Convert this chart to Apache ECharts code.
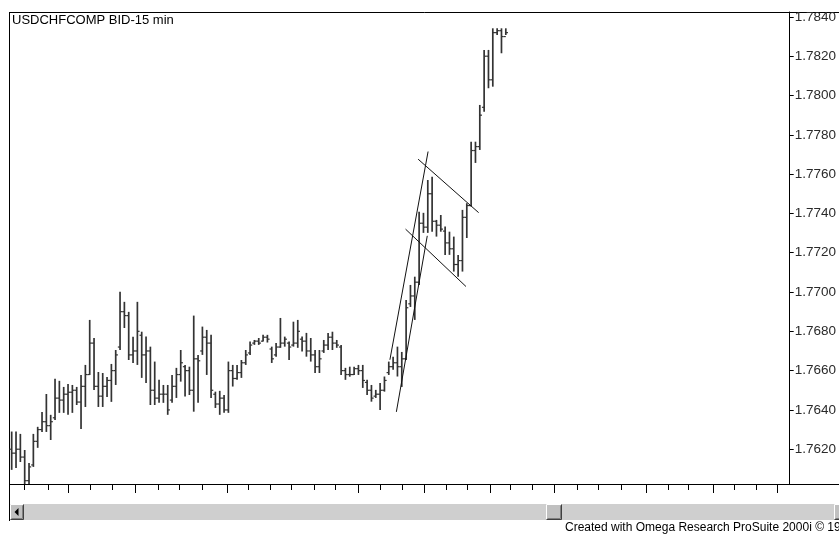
<!DOCTYPE html>
<html>
<head>
<meta charset="utf-8">
<script src="https://cdn.jsdelivr.net/npm/echarts@6.0.0/dist/echarts.min.js"></script>
<style>
html,body{margin:0;padding:0;background:#fff;}
#chart{width:839px;height:535px;}
</style>
</head>
<body>
<div id="chart"></div>
<script>
// ---- Data (15-min OHLC bars, USD/CHF) ----
const opens = [
1.76200,1.76180,1.76200,1.76160,1.76040,1.76120,1.76240,1.76300,1.76340,1.76320,
1.76360,1.76460,1.76450,1.76480,1.76490,1.76500,1.76440,1.76520,1.76580,1.76740,
1.76520,1.76470,1.76520,1.76550,1.76600,1.76720,1.76900,1.76880,1.76680,1.76700,
1.76780,1.76680,1.76700,1.76500,1.76460,1.76480,1.76480,1.76450,1.76520,1.76580,
1.76620,1.76600,1.76500,1.76660,1.76700,1.76770,1.76740,1.76480,1.76430,1.76460,
1.76400,1.76600,1.76560,1.76590,1.76640,1.76690,1.76740,1.76750,1.76750,1.76770,
1.76710,1.76680,1.76720,1.76740,1.76740,1.76730,1.76740,1.76760,1.76750,1.76700,
1.76680,1.76620,1.76700,1.76730,1.76770,1.76740,1.76720,1.76600,1.76580,1.76580,
1.76610,1.76600,1.76540,1.76500,1.76470,1.76480,1.76500,1.76590,1.76620,1.76640,
1.76620,1.76660,1.76940,1.76980,1.77050,1.77350,1.77330,1.77500,1.77360,1.77340,
1.77310,1.77250,1.77220,1.77140,1.77160,1.77380,1.77440,1.77720,1.77740,1.77940,
1.78200,1.78080,1.78320,1.78330,1.78300];
const highs = [
1.76290,1.76290,1.76278,1.76196,1.76130,1.76278,1.76314,1.76390,1.76481,1.76375,
1.76558,1.76548,1.76517,1.76532,1.76527,1.76517,1.76578,1.76629,1.76858,1.76766,
1.76593,1.76588,1.76568,1.76634,1.76705,1.77001,1.76950,1.76899,1.76772,1.76950,
1.76798,1.76773,1.76722,1.76646,1.76553,1.76527,1.76527,1.76578,1.76614,1.76705,
1.76629,1.76620,1.76880,1.76680,1.76824,1.76807,1.76782,1.76493,1.76497,1.76476,
1.76646,1.76629,1.76629,1.76654,1.76705,1.76748,1.76756,1.76766,1.76782,1.76782,
1.76722,1.76741,1.76868,1.76773,1.76748,1.76849,1.76858,1.76773,1.76792,1.76766,
1.76705,1.76705,1.76756,1.76792,1.76798,1.76756,1.76731,1.76614,1.76620,1.76620,
1.76629,1.76629,1.76553,1.76527,1.76502,1.76537,1.76570,1.76646,1.76671,1.76722,
1.76695,1.76960,1.77036,1.77078,1.77409,1.77403,1.77570,1.77587,1.77367,1.77392,
1.77333,1.77307,1.77282,1.77189,1.77418,1.77452,1.77765,1.77765,1.77952,1.78232,
1.78232,1.78342,1.78342,1.78342,1.78342];
const lows = [
1.76095,1.76105,1.76135,1.76010,1.76010,1.76110,1.76207,1.76288,1.76288,1.76247,
1.76349,1.76385,1.76385,1.76375,1.76385,1.76425,1.76303,1.76415,1.76578,1.76502,
1.76415,1.76415,1.76466,1.76441,1.76527,1.76705,1.76817,1.76654,1.76639,1.76629,
1.76563,1.76537,1.76425,1.76425,1.76436,1.76436,1.76375,1.76436,1.76461,1.76544,
1.76468,1.76476,1.76391,1.76436,1.76680,1.76578,1.76461,1.76410,1.76375,1.76385,
1.76385,1.76519,1.76553,1.76563,1.76629,1.76680,1.76731,1.76731,1.76748,1.76743,
1.76639,1.76671,1.76716,1.76722,1.76654,1.76722,1.76716,1.76697,1.76671,1.76646,
1.76588,1.76588,1.76690,1.76705,1.76705,1.76716,1.76578,1.76553,1.76569,1.76578,
1.76578,1.76512,1.76476,1.76442,1.76461,1.76400,1.76493,1.76578,1.76604,1.76570,
1.76517,1.76654,1.76924,1.76858,1.77036,1.77301,1.77301,1.77307,1.77282,1.77307,
1.77189,1.77189,1.77104,1.77078,1.77104,1.77275,1.77435,1.77657,1.77723,1.77918,
1.78037,1.78045,1.78308,1.78215,1.78308];
const closes = [
1.76180,1.76200,1.76160,1.76040,1.76110,1.76240,1.76300,1.76340,1.76320,1.76340,
1.76460,1.76450,1.76480,1.76490,1.76500,1.76440,1.76520,1.76580,1.76740,1.76520,
1.76470,1.76520,1.76550,1.76600,1.76680,1.76900,1.76880,1.76680,1.76700,1.76800,
1.76680,1.76700,1.76500,1.76460,1.76480,1.76480,1.76400,1.76520,1.76580,1.76640,
1.76600,1.76500,1.76660,1.76650,1.76770,1.76740,1.76500,1.76430,1.76460,1.76400,
1.76600,1.76560,1.76590,1.76640,1.76680,1.76730,1.76750,1.76740,1.76770,1.76760,
1.76660,1.76720,1.76740,1.76760,1.76720,1.76740,1.76800,1.76750,1.76700,1.76680,
1.76620,1.76660,1.76730,1.76770,1.76740,1.76730,1.76600,1.76580,1.76580,1.76610,
1.76600,1.76550,1.76500,1.76460,1.76480,1.76500,1.76550,1.76620,1.76640,1.76620,
1.76660,1.76920,1.76980,1.77050,1.77350,1.77330,1.77500,1.77360,1.77340,1.77320,
1.77250,1.77220,1.77140,1.77160,1.77380,1.77440,1.77720,1.77740,1.77900,1.78200,
1.78080,1.78320,1.78330,1.78300,1.78320];

// price axis tick labels
const yTickValues = [1.7620,1.7640,1.7660,1.7680,1.7700,1.7720,1.7740,1.7760,1.7780,1.7800,1.7820,1.7840];
// time-axis tick marks (in bar-index units)
const minorTimeTicks = [2.8,8.4,18.2,23.2,33.7,38.6,43.9,54.6,59.6,64.5,69.7,74.6,85.1,90.0,100.3,105.2,115.1,120.2,130.5,135.3,140.6,151.4,156.2,166.8,171.7];
const majorTimeTicks = [13.1,28.5,49.7,79.9,95.1,110.3,125.2,146.4,161.8,176.7];

// hand-drawn trend lines: [barIndex, price] end points
const trendA = [[87.26,1.76655],[96.07,1.77715]];
const trendB = [[88.75,1.76390],[95.88,1.77286]];
const trendC = [[93.77,1.77676],[107.73,1.77404]];
const trendD = [[90.87,1.77320],[104.81,1.77028]];

const titleText = 'USDCHFCOMP BID-15 min';
const footerText = 'Created with Omega Research ProSuite 2000i \u00A9 1999';

// ---- build ----
const ohlc = opens.map((o,i)=>[i,o,closes[i],lows[i],highs[i]]);
const FONT = "'Liberation Sans', Arial, sans-serif";

function trendSeries(pts){
  return {type:'line', data:pts, symbol:'none', silent:true, animation:false,
    lineStyle:{color:'#111', width:1}, z:5, clip:true};
}

const chart = echarts.init(document.getElementById('chart'), null, {renderer:'canvas'});
const X_MIN = -0.62, X_MAX = 179.5;

function btn(x, y, w, h){
  return [
    {type:'rect', shape:{x:x, y:y, width:w, height:h}, style:{fill:'#c0c0c0'}},
    {type:'polyline', shape:{points:[[x+0.5,y+h-0.5],[x+0.5,y+0.5],[x+w-0.5,y+0.5]]}, style:{stroke:'#fff', lineWidth:1, fill:null}},
    {type:'polyline', shape:{points:[[x+0.5,y+h-0.5],[x+w-0.5,y+h-0.5],[x+w-0.5,y+0.5]]}, style:{stroke:'#404040', lineWidth:1, fill:null}},
    {type:'polyline', shape:{points:[[x+1.5,y+h-1.5],[x+w-1.5,y+h-1.5],[x+w-1.5,y+1.5]]}, style:{stroke:'#808080', lineWidth:1, fill:null}}
  ];
}

const sbY = 504, sbH = 16;
const graphics = [
  // frame
  {type:'line', shape:{x1:9.5,y1:12.5,x2:839,y2:12.5}, style:{stroke:'#000', lineWidth:1}},
  {type:'line', shape:{x1:9.5,y1:12,x2:9.5,y2:521}, style:{stroke:'#000', lineWidth:1}},
  {type:'line', shape:{x1:9,y1:484.5,x2:839,y2:484.5}, style:{stroke:'#000', lineWidth:1}},
  // title
  {type:'text', left:12, top:14, style:{text:titleText, font:'13px '+FONT, fill:'#000'}},
  // scrollbar track
  {type:'rect', shape:{x:10, y:sbY, width:829, height:sbH}, style:{fill:'#cfcfcf'}},
  ...btn(10, sbY, 14, sbH),
  {type:'polygon', shape:{points:[[14.5,sbY+8],[18.5,sbY+4],[18.5,sbY+12]]}, style:{fill:'#000'}},
  ...btn(546, sbY, 16, sbH),
  ...btn(834, sbY, 14, sbH),
  {type:'text', left:565, top:522, style:{text:footerText, font:'12px '+FONT, fill:'#000'}}
];

chart.setOption({
  animation:false,
  backgroundColor:'#fff',
  grid:{left:9, top:12, right:47, bottom:51, show:false},
  xAxis:[
    {type:'value', min:X_MIN, max:X_MAX, position:'bottom',
     axisLine:{show:false, onZero:false},
     axisTick:{show:true, length:6, customValues:minorTimeTicks, lineStyle:{color:'#000', width:1}},
     axisLabel:{show:false}, splitLine:{show:false}},
    {type:'value', min:X_MIN, max:X_MAX, position:'bottom', offset:0,
     axisLine:{show:false, onZero:false},
     axisTick:{show:true, length:9, customValues:majorTimeTicks, lineStyle:{color:'#000', width:1}},
     axisLabel:{show:false}, splitLine:{show:false}}
  ],
  yAxis:{type:'value', position:'right', min:1.76023, max:1.78425, scale:true,
    axisLine:{show:true, onZero:false, lineStyle:{color:'#000', width:1}},
    axisTick:{show:true, length:4, inside:false, customValues:yTickValues, lineStyle:{color:'#000'}},
    axisLabel:{show:true, customValues:yTickValues, margin:5, color:'#2a2a2a', fontSize:13.5, fontFamily:FONT,
      formatter:(v)=>Number(v).toFixed(4)},
    splitLine:{show:false}},
  graphic:graphics,
  series:[
    {type:'custom', xAxisIndex:0, clip:true, silent:true, z:3,
     encode:{x:0, y:[1,2,3,4]},
     data:ohlc,
     renderItem:function(params, api){
       const i = api.value(0);
       const o = api.coord([i, api.value(1)]);
       const c = api.coord([i, api.value(2)]);
       const l = api.coord([i, api.value(3)]);
       const h = api.coord([i, api.value(4)]);
       const x = o[0];
       const st = {stroke:'#333', lineWidth:1.7};
       return {type:'group', children:[
         {type:'line', shape:{x1:x, y1:h[1], x2:x, y2:l[1]}, style:st},
         {type:'line', shape:{x1:x-2.2, y1:o[1], x2:x, y2:o[1]}, style:{stroke:'#333', lineWidth:1.2}},
         {type:'line', shape:{x1:x, y1:c[1], x2:x+2.2, y2:c[1]}, style:{stroke:'#333', lineWidth:1.2}}
       ]};
     }},
    trendSeries(trendA), trendSeries(trendB), trendSeries(trendC), trendSeries(trendD)
  ]
});
</script>
</body>
</html>
